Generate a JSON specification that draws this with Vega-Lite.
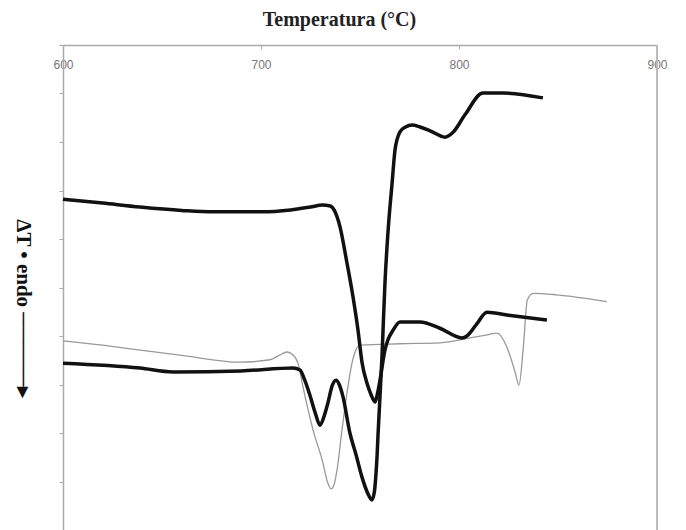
{
  "$schema": "https://vega.github.io/schema/vega-lite/v6.json",
  "width": 594,
  "height": 485,
  "autosize": {"type": "none"},
  "padding": {"left": 63, "top": 45, "right": 29, "bottom": 0},
  "background": "white",
  "config": {"view": {"stroke": null}, "font": "Liberation Serif"},
  "datasets": {
    "dta": [
      {"curve": "A", "T": 600, "v": 6.82}, {"curve": "A", "T": 620, "v": 6.74}, {"curve": "A", "T": 638.9, "v": 6.66},
      {"curve": "A", "T": 660, "v": 6.59}, {"curve": "A", "T": 675.8, "v": 6.56}, {"curve": "A", "T": 700, "v": 6.56},
      {"curve": "A", "T": 715, "v": 6.6}, {"curve": "A", "T": 725, "v": 6.66}, {"curve": "A", "T": 731, "v": 6.7},
      {"curve": "A", "T": 735, "v": 6.68}, {"curve": "A", "T": 737.5, "v": 6.55}, {"curve": "A", "T": 739.9, "v": 6.25},
      {"curve": "A", "T": 743.4, "v": 5.51}, {"curve": "A", "T": 746.5, "v": 4.8}, {"curve": "A", "T": 749, "v": 4.12},
      {"curve": "A", "T": 751, "v": 3.46}, {"curve": "A", "T": 753.5, "v": 3.03}, {"curve": "A", "T": 755.5, "v": 2.8},
      {"curve": "A", "T": 757.6, "v": 2.64}, {"curve": "A", "T": 758.3, "v": 2.72}, {"curve": "A", "T": 760.1, "v": 3.09},
      {"curve": "A", "T": 762.6, "v": 3.71}, {"curve": "A", "T": 764.1, "v": 3.92}, {"curve": "A", "T": 766.7, "v": 4.12},
      {"curve": "A", "T": 770.2, "v": 4.29}, {"curve": "A", "T": 780.3, "v": 4.29}, {"curve": "A", "T": 790.4, "v": 4.16},
      {"curve": "A", "T": 801.5, "v": 3.96}, {"curve": "A", "T": 804, "v": 4.0}, {"curve": "A", "T": 809, "v": 4.25},
      {"curve": "A", "T": 814.1, "v": 4.49}, {"curve": "A", "T": 825, "v": 4.43}, {"curve": "A", "T": 844.4, "v": 4.33},

      {"curve": "B", "T": 600, "v": 3.44}, {"curve": "B", "T": 638.9, "v": 3.34}, {"curve": "B", "T": 655.6, "v": 3.26},
      {"curve": "B", "T": 690, "v": 3.28}, {"curve": "B", "T": 716.2, "v": 3.34}, {"curve": "B", "T": 719.7, "v": 3.3},
      {"curve": "B", "T": 722, "v": 3.1}, {"curve": "B", "T": 724.7, "v": 2.78}, {"curve": "B", "T": 727.5, "v": 2.4},
      {"curve": "B", "T": 729.8, "v": 2.16}, {"curve": "B", "T": 731.5, "v": 2.3}, {"curve": "B", "T": 733.8, "v": 2.62},
      {"curve": "B", "T": 736, "v": 2.98}, {"curve": "B", "T": 737.9, "v": 3.09}, {"curve": "B", "T": 739.5, "v": 3.0},
      {"curve": "B", "T": 741.4, "v": 2.75}, {"curve": "B", "T": 744.9, "v": 2.0}, {"curve": "B", "T": 748, "v": 1.55},
      {"curve": "B", "T": 751, "v": 1.09}, {"curve": "B", "T": 754, "v": 0.75}, {"curve": "B", "T": 756, "v": 0.62},
      {"curve": "B", "T": 757.3, "v": 0.8}, {"curve": "B", "T": 758.1, "v": 1.18}, {"curve": "B", "T": 758.6, "v": 1.51},
      {"curve": "B", "T": 759.1, "v": 1.96}, {"curve": "B", "T": 761.1, "v": 3.57}, {"curve": "B", "T": 762.6, "v": 5.09},
      {"curve": "B", "T": 764.1, "v": 6.12}, {"curve": "B", "T": 766.2, "v": 7.15}, {"curve": "B", "T": 767.7, "v": 7.84},
      {"curve": "B", "T": 770.2, "v": 8.21}, {"curve": "B", "T": 773, "v": 8.31}, {"curve": "B", "T": 776.3, "v": 8.35},
      {"curve": "B", "T": 780.3, "v": 8.31}, {"curve": "B", "T": 786, "v": 8.22}, {"curve": "B", "T": 792.9, "v": 8.1},
      {"curve": "B", "T": 797, "v": 8.2}, {"curve": "B", "T": 803, "v": 8.56}, {"curve": "B", "T": 812.1, "v": 9.01},
      {"curve": "B", "T": 822.2, "v": 9.01}, {"curve": "B", "T": 842.4, "v": 8.91},

      {"curve": "C", "T": 600, "v": 3.9}, {"curve": "C", "T": 620, "v": 3.81}, {"curve": "C", "T": 638.9, "v": 3.71},
      {"curve": "C", "T": 660, "v": 3.6}, {"curve": "C", "T": 689.4, "v": 3.46}, {"curve": "C", "T": 704.5, "v": 3.51},
      {"curve": "C", "T": 709.6, "v": 3.61}, {"curve": "C", "T": 713.1, "v": 3.67}, {"curve": "C", "T": 715.6, "v": 3.63},
      {"curve": "C", "T": 718.7, "v": 3.44}, {"curve": "C", "T": 721.2, "v": 2.95}, {"curve": "C", "T": 726.3, "v": 2.06},
      {"curve": "C", "T": 731.3, "v": 1.38}, {"curve": "C", "T": 733.5, "v": 1.0}, {"curve": "C", "T": 735.4, "v": 0.85},
      {"curve": "C", "T": 737, "v": 0.95}, {"curve": "C", "T": 738.4, "v": 1.24}, {"curve": "C", "T": 740.9, "v": 2.06},
      {"curve": "C", "T": 743.4, "v": 2.82}, {"curve": "C", "T": 745.5, "v": 3.35}, {"curve": "C", "T": 747.5, "v": 3.67},
      {"curve": "C", "T": 750, "v": 3.81}, {"curve": "C", "T": 770.2, "v": 3.84}, {"curve": "C", "T": 790.4, "v": 3.86},
      {"curve": "C", "T": 805.6, "v": 3.96}, {"curve": "C", "T": 815, "v": 4.03}, {"curve": "C", "T": 819.2, "v": 4.06},
      {"curve": "C", "T": 824.1, "v": 3.78}, {"curve": "C", "T": 828.3, "v": 3.26}, {"curve": "C", "T": 830.3, "v": 2.99},
      {"curve": "C", "T": 832.5, "v": 3.78}, {"curve": "C", "T": 834.5, "v": 4.74}, {"curve": "C", "T": 837.5, "v": 4.88},
      {"curve": "C", "T": 849.3, "v": 4.85}, {"curve": "C", "T": 874.6, "v": 4.71}
    ]
  },
  "data": {"name": "dta"},
  "layer": [
    {
      "transform": [{"filter": "datum.curve === 'C'"}],
      "mark": {"type": "line", "color": "#999999", "strokeWidth": 1.3, "interpolate": "monotone"},
      "encoding": {
        "x": {
          "field": "T", "type": "quantitative",
          "scale": {"domain": [600, 900], "nice": false, "zero": false},
          "axis": {
            "orient": "top", "values": [600, 700, 800, 900], "grid": false,
            "domainColor": "#aaaaaa", "domainWidth": 1.5,
            "tickColor": "#aaaaaa", "tickSize": -4, "tickWidth": 1,
            "labelPadding": -10, "labelBaseline": "top", "labelFlush": false,
            "labelFont": "Liberation Sans", "labelFontSize": 12, "labelColor": "#777777",
            "title": "Temperatura (°C)", "titleFont": "Liberation Serif", "titleFontSize": 20,
            "titleFontWeight": "bold", "titleColor": "#222222",
            "titleX": 276, "titleY": -20, "titleBaseline": "alphabetic", "titleAlign": "center"
          }
        },
        "y": {
          "field": "v", "type": "quantitative",
          "scale": {"domain": [0, 10], "nice": false, "zero": false},
          "axis": {
            "orient": "left", "values": [0, 1, 2, 3, 4, 5, 6, 7, 8, 9, 10], "labels": false, "grid": false,
            "domainColor": "#aaaaaa", "domainWidth": 1.5,
            "tickColor": "#aaaaaa", "tickSize": 4, "tickWidth": 1,
            "title": "ΔT • endo      ─────▸", "titleAngle": 90, "titleX": -41, "titleY": 263,
            "titleAlign": "center", "titleBaseline": "middle",
            "titleFont": "Liberation Serif", "titleFontSize": 21, "titleFontWeight": "bold", "titleColor": "#111111"
          }
        }
      }
    },
    {
      "transform": [{"filter": "datum.curve !== 'C'"}],
      "mark": {"type": "line", "color": "#111111", "strokeWidth": 3.5, "interpolate": "monotone"},
      "encoding": {
        "x": {"field": "T", "type": "quantitative"},
        "y": {"field": "v", "type": "quantitative"},
        "detail": {"field": "curve"}
      }
    },
    {
      "mark": {"type": "rule", "color": "#bbbbbb", "strokeWidth": 1.5},
      "encoding": {"x": {"datum": 900}}
    }
  ]
}
